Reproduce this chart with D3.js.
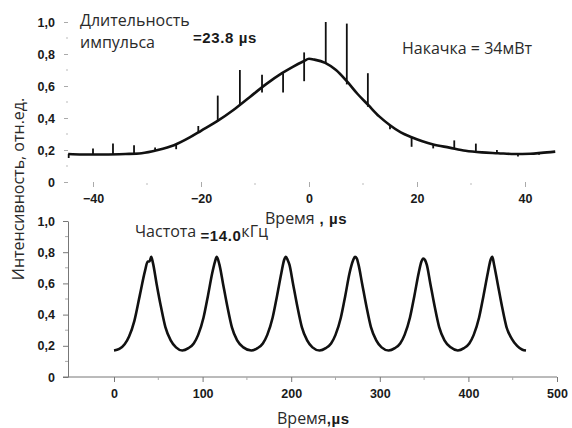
<!DOCTYPE html>
<html>
<head>
<meta charset="utf-8">
<script src="https://cdn.jsdelivr.net/npm/d3@7"></script>
<style>
  body { margin: 0; background: #fff; }
  svg { display: block; }
  .tick text { font-family: "Liberation Sans", Arial, sans-serif; font-weight: bold; font-size: 12.5px; fill: #1a1a1a; }
  .note { font-family: "Open Sans", "Noto Sans", sans-serif; font-size: 16px; fill: #2a2a2a; }
  .bold { font-family: "Liberation Sans", Arial, sans-serif; font-weight: bold; font-size: 15px; fill: #1a1a1a; letter-spacing: 0.6px; }
</style>
</head>
<body>
<div id="chart"></div>
<script>
// top panel: pulse envelope
const topT = [-44.6, -42, -38, -34, -31, -28, -25, -22, -20, -17, -14, -11, -8, -5, -3, -1, 0, 1, 3, 5, 7, 9, 11, 13, 15, 17, 19, 21, 23, 26, 29, 32, 35, 38, 41, 43, 45.6]
const topV = [0.175, 0.172, 0.172, 0.175, 0.18, 0.2, 0.23, 0.28, 0.32, 0.38, 0.45, 0.53, 0.61, 0.68, 0.72, 0.755, 0.77, 0.765, 0.745, 0.7, 0.63, 0.55, 0.48, 0.41, 0.355, 0.31, 0.28, 0.255, 0.235, 0.215, 0.195, 0.185, 0.18, 0.175, 0.177, 0.182, 0.19]

// spikes on the envelope
const spikeT  = [-44.5, -40, -36.3, -32.4, -28.5, -24.6, -20.5, -16.9, -12.8, -8.7, -4.8, -0.9, 3.1, 7, 10.9, 15, 19, 23, 26.9, 30.9, 34.8, 38.7, 42.6]
const spikeLo = [0.15, 0.172, 0.172, 0.178, 0.195, 0.205, 0.31, 0.38, 0.48, 0.56, 0.56, 0.63, 0.74, 0.61, 0.47, 0.33, 0.22, 0.21, 0.21, 0.19, 0.18, 0.16, 0.17]
const spikeHi = [0.175, 0.21, 0.24, 0.23, 0.215, 0.235, 0.35, 0.54, 0.70, 0.67, 0.68, 0.81, 1.0, 0.99, 0.68, 0.355, 0.28, 0.235, 0.26, 0.24, 0.20, 0.175, 0.18]

// bottom panel: pulse train
const botT = [0, 6, 12, 17, 23, 29, 35, 38, 40, 42, 44, 48, 53, 58, 64, 70, 77,
  84, 90, 95, 101, 106, 111, 114, 116, 119, 123, 128, 133, 139, 146, 155,
  162, 168, 173, 179, 184, 189, 192, 194, 196, 198, 202, 207, 212, 218, 224, 232,
  239, 245, 250, 256, 261, 266, 270, 272, 274, 276, 280, 285, 290, 296, 302, 310,
  317, 323, 328, 334, 339, 344, 347, 349, 351, 353, 357, 362, 367, 373, 380, 388,
  395, 401, 406, 412, 417, 422, 425, 427, 429, 433, 438, 443, 449, 455, 461, 465]
const botV = [0.17, 0.18, 0.21, 0.26, 0.36, 0.52, 0.68, 0.74, 0.74, 0.77, 0.73, 0.6, 0.45, 0.32, 0.235, 0.19, 0.17,
  0.185, 0.215, 0.27, 0.38, 0.52, 0.67, 0.74, 0.77, 0.72, 0.6, 0.45, 0.32, 0.235, 0.19, 0.17,
  0.185, 0.215, 0.27, 0.38, 0.52, 0.67, 0.75, 0.77, 0.75, 0.72, 0.6, 0.45, 0.32, 0.235, 0.19, 0.17,
  0.185, 0.215, 0.27, 0.38, 0.52, 0.67, 0.75, 0.77, 0.76, 0.72, 0.6, 0.45, 0.32, 0.235, 0.19, 0.17,
  0.185, 0.215, 0.27, 0.38, 0.52, 0.67, 0.74, 0.76, 0.75, 0.72, 0.6, 0.45, 0.32, 0.235, 0.19, 0.17,
  0.185, 0.215, 0.27, 0.38, 0.52, 0.67, 0.75, 0.77, 0.72, 0.6, 0.45, 0.32, 0.245, 0.2, 0.175, 0.17]

const yTicks = [0, 0.2, 0.4, 0.6, 0.8, 1.0]
const yMinor = [0.1, 0.3, 0.5, 0.7, 0.9]
const topXTicks = [-40, -20, 0, 20, 40]
const topXMinor = [-30, -10, 10, 30]
const botXTicks = [0, 100, 200, 300, 400, 500]
const botXMinor = [50, 150, 250, 350, 450]

const yFmt = d => d === 0 ? "0" : d3.format(".1f")(d).replace(".", ",")

const svg = d3.select("#chart").append("svg")
  .attr("width", 572).attr("height", 428)
svg.append("rect").attr("width", 572).attr("height", 428).attr("fill", "#fff")

// ---- top panel
const xTop = d3.scaleLinear().domain([-40, 40]).range([93, 525])
const yTop = d3.scaleLinear().domain([0, 1]).range([182, 22])

const gTopY = svg.append("g").attr("transform", "translate(68,0)")
  .call(d3.axisLeft(yTop).tickValues(yTicks).tickFormat(yFmt).tickSize(4).tickPadding(9))
gTopY.select(".domain").remove()
gTopY.selectAll(".tick line").attr("stroke", "#aaa")
svg.append("g").selectAll("line").data(yMinor).enter().append("line")
  .attr("x1", 66).attr("x2", 68).attr("y1", d => yTop(d)).attr("y2", d => yTop(d))
  .attr("stroke", "#bbb")

const gTopX = svg.append("g").attr("transform", "translate(0,182)")
  .call(d3.axisBottom(xTop).tickValues(topXTicks).tickFormat(d3.format("d")).tickSize(5).tickPadding(7))
gTopX.select(".domain").remove()
gTopX.selectAll(".tick line").attr("stroke", "#aaa")
svg.append("g").selectAll("line").data(topXMinor).enter().append("line")
  .attr("x1", d => xTop(d)).attr("x2", d => xTop(d)).attr("y1", 183).attr("y2", 185)
  .attr("stroke", "#bbb")

const topData = topT.map((t, i) => ({ t: t, v: topV[i] }))
svg.append("path").datum(topData)
  .attr("fill", "none").attr("stroke", "#111").attr("stroke-width", 2.6)
  .attr("d", d3.line().x(d => xTop(d.t)).y(d => yTop(d.v)).curve(d3.curveMonotoneX))

svg.append("g").selectAll("line").data(spikeT).enter().append("line")
  .attr("x1", d => xTop(d)).attr("x2", d => xTop(d))
  .attr("y1", (d, i) => yTop(spikeLo[i])).attr("y2", (d, i) => yTop(spikeHi[i]))
  .attr("stroke", "#111").attr("stroke-width", 1.8)

// ---- bottom panel
const xBot = d3.scaleLinear().domain([0, 500]).range([114, 557])
const yBot = d3.scaleLinear().domain([0, 1]).range([377, 221])

const gBotY = svg.append("g").attr("transform", "translate(68,0)")
  .call(d3.axisLeft(yBot).tickValues(yTicks).tickFormat(yFmt).tickSize(5).tickPadding(8).tickSizeOuter(0))
gBotY.select(".domain").attr("stroke", "#777")
gBotY.selectAll(".tick line").attr("stroke", "#777")
svg.append("g").selectAll("line").data(yMinor).enter().append("line")
  .attr("x1", 65).attr("x2", 68).attr("y1", d => yBot(d)).attr("y2", d => yBot(d))
  .attr("stroke", "#aaa")

const gBotX = svg.append("g").attr("transform", "translate(0,377)")
  .call(d3.axisBottom(xBot).tickValues(botXTicks).tickFormat(d3.format("d")).tickSize(5).tickPadding(7).tickSizeOuter(0))
gBotX.select(".domain").attr("d", "M63,0H557").attr("stroke", "#777")
gBotX.selectAll(".tick line").attr("stroke", "#777")
svg.append("g").selectAll("line").data(botXMinor).enter().append("line")
  .attr("x1", d => xBot(d)).attr("x2", d => xBot(d)).attr("y1", 377).attr("y2", 380)
  .attr("stroke", "#aaa")

const botData = botT.map((t, i) => ({ t: t, v: botV[i] }))
svg.append("path").datum(botData)
  .attr("fill", "none").attr("stroke", "#111").attr("stroke-width", 2.6)
  .attr("d", d3.line().x(d => xBot(d.t)).y(d => yBot(d.v)).curve(d3.curveMonotoneX))

// ---- texts
svg.append("text").attr("class", "note").attr("x", 80).attr("y", 26).text("Длительность")
svg.append("text").attr("class", "note").attr("x", 80).attr("y", 48).text("импульса")
svg.append("text").attr("class", "bold").attr("x", 193).attr("y", 43).text("=23.8 µs")
svg.append("text").attr("class", "note").attr("x", 402).attr("y", 54).text("Накачка = 34мВт")

const t1 = svg.append("text").attr("class", "note").attr("x", 265).attr("y", 224)
t1.append("tspan").text("Время")
t1.append("tspan").attr("class", "bold").text(" , µs")

const t2 = svg.append("text").attr("class", "note").attr("x", 135).attr("y", 237)
t2.append("tspan").text("Частота ")
t2.append("tspan").attr("class", "bold").attr("dy", 4).text("=14.0")
t2.append("tspan").attr("dy", -4).text("кГц")

const t3 = svg.append("text").attr("class", "note").attr("x", 277).attr("y", 424)
t3.append("tspan").text("Время")
t3.append("tspan").attr("class", "bold").text(",µs")

svg.append("text").attr("class", "note")
  .attr("transform", "translate(24,189) rotate(-90)")
  .attr("text-anchor", "middle")
  .text("Интенсивность, отн.ед.")
</script>
</body>
</html>
